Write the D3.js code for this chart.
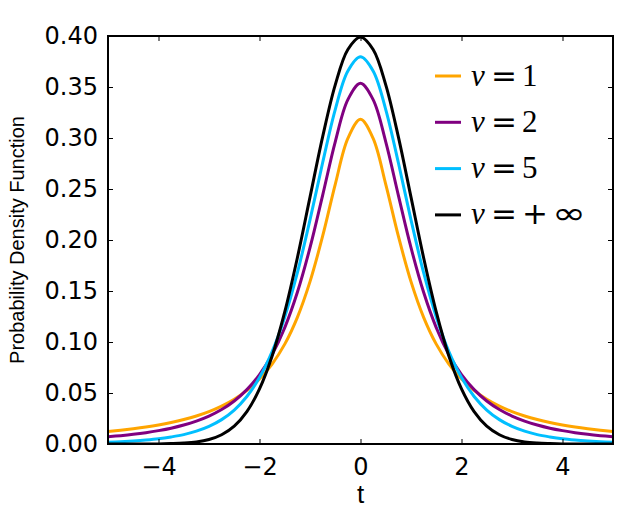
<!DOCTYPE html>
<html>
<head>
<meta charset="utf-8">
<script src="https://cdn.jsdelivr.net/npm/d3@7"></script>
<style>
  html, body { margin: 0; padding: 0; background: #fff; }
  svg { display: block; }
</style>
</head>
<body>
<svg id="chart" width="640" height="512"></svg>
<script>
// ---- data ----
const tValues = [-5,-4.75,-4.5,-4.25,-4,-3.75,-3.5,-3.25,-3,-2.75,-2.5,-2.25,-2,-1.75,-1.5,-1.25,-1,-0.75,-0.5,-0.25,0,
                 0.25,0.5,0.75,1,1.25,1.5,1.75,2,2.25,2.5,2.75,3,3.25,3.5,3.75,4,4.25,4.5,4.75,5];
const nu1 = [0.0122,0.0135,0.0150,0.0167,0.0187,0.0211,0.0240,0.0275,0.0318,0.0372,0.0439,0.0525,0.0637,0.0784,0.0979,0.1242,0.1592,0.2037,0.2546,0.2996,0.3183,
             0.2996,0.2546,0.2037,0.1592,0.1242,0.0979,0.0784,0.0637,0.0525,0.0439,0.0372,0.0318,0.0275,0.0240,0.0211,0.0187,0.0167,0.0150,0.0135,0.0122];
const nu2 = [0.0071,0.0082,0.0095,0.0111,0.0131,0.0155,0.0186,0.0225,0.0274,0.0338,0.0422,0.0533,0.0680,0.0878,0.1141,0.1487,0.1925,0.2438,0.2963,0.3376,0.3536,
             0.3376,0.2963,0.2438,0.1925,0.1487,0.1141,0.0878,0.0680,0.0533,0.0422,0.0338,0.0274,0.0225,0.0186,0.0155,0.0131,0.0111,0.0095,0.0082,0.0071];
const nu5 = [0.0018,0.0023,0.0030,0.0039,0.0051,0.0069,0.0092,0.0126,0.0173,0.0239,0.0333,0.0466,0.0651,0.0905,0.1245,0.1679,0.2197,0.2757,0.3279,0.3657,0.3796,
             0.3657,0.3279,0.2757,0.2197,0.1679,0.1245,0.0905,0.0651,0.0466,0.0333,0.0239,0.0173,0.0126,0.0092,0.0069,0.0051,0.0039,0.0030,0.0023,0.0018];
const nuInf = [0.0000,0.0000,0.0000,0.0001,0.0001,0.0004,0.0009,0.0020,0.0044,0.0091,0.0175,0.0317,0.0540,0.0863,0.1295,0.1826,0.2420,0.3011,0.3521,0.3867,0.3989,
               0.3867,0.3521,0.3011,0.2420,0.1826,0.1295,0.0863,0.0540,0.0317,0.0175,0.0091,0.0044,0.0020,0.0009,0.0004,0.0001,0.0001,0.0000,0.0000,0.0000];
const seriesNames = ["1", "2", "5", "+\u221E"];
const seriesColors = ["#FFA500", "#800080", "#00BFFF", "#000000"];
const xTicks = [-4, -2, 0, 2, 4];
const yTicks = [0.00, 0.05, 0.10, 0.15, 0.20, 0.25, 0.30, 0.35, 0.40];
const xLabel = "t";
const yLabel = "Probability Density Function";

const series = [nu1, nu2, nu5, nuInf].map((vals, i) => ({
  name: seriesNames[i], color: seriesColors[i],
  points: tValues.map((t, j) => [t, vals[j]])
}));

// ---- layout ----
const margin = { left: 108, right: 27, top: 36, bottom: 68 };
const W = 640, H = 512;
const iw = W - margin.left - margin.right;
const ih = H - margin.top - margin.bottom;

const svg = d3.select("#chart");
const g = svg.append("g").attr("transform", `translate(${margin.left},${margin.top})`);

const x = d3.scaleLinear().domain([-5, 5]).range([0, iw]);
const y = d3.scaleLinear().domain([0, 0.40]).range([ih, 0]);

svg.append("defs").append("clipPath").attr("id", "clip")
  .append("rect").attr("x", 0).attr("y", 0).attr("width", iw).attr("height", ih);

const line = d3.line().x(d => x(d[0])).y(d => y(d[1])).curve(d3.curveCatmullRom.alpha(0.5));

g.append("g").attr("clip-path", "url(#clip)")
  .selectAll("path").data(series).join("path")
  .attr("d", d => line(d.points))
  .attr("fill", "none")
  .attr("stroke", d => d.color)
  .attr("stroke-width", 3)
  .attr("stroke-linejoin", "round");

// ---- axes (ticks inward on all sides) ----
const tickFont = "DejaVu Sans, sans-serif";
const axBottom = g.append("g").attr("transform", `translate(0,${ih})`)
  .call(d3.axisBottom(x).tickValues(xTicks).tickSizeInner(-5).tickSizeOuter(0).tickPadding(14)
        .tickFormat(d => d3.format("")(d).replace("-", "\u2212")));
const axTop = g.append("g")
  .call(d3.axisTop(x).tickValues(xTicks).tickSizeInner(-5).tickSizeOuter(0).tickFormat(""));
const axLeft = g.append("g")
  .call(d3.axisLeft(y).tickValues(yTicks).tickSizeInner(-5).tickSizeOuter(0).tickPadding(10)
        .tickFormat(d3.format(".2f")));
const axRight = g.append("g").attr("transform", `translate(${iw},0)`)
  .call(d3.axisRight(y).tickValues(yTicks).tickSizeInner(-5).tickSizeOuter(0).tickFormat(""));

[axBottom, axTop, axLeft, axRight].forEach(a => {
  a.select(".domain").remove();
  a.selectAll(".tick line").attr("stroke", "#000").attr("stroke-width", 1);
  a.selectAll("text").attr("font-family", tickFont).attr("font-size", 24).attr("fill", "#000");
});

// frame
g.append("rect").attr("x", 0).attr("y", 0).attr("width", iw).attr("height", ih)
  .attr("fill", "none").attr("stroke", "#000").attr("stroke-width", 2);

// axis labels
svg.append("text").attr("x", margin.left + iw / 2).attr("y", 503)
  .attr("text-anchor", "middle").attr("font-family", "Liberation Sans, Arial, sans-serif")
  .attr("font-size", 26).text(xLabel);
svg.append("text")
  .attr("transform", `translate(24,${margin.top + ih / 2}) rotate(-90)`)
  .attr("text-anchor", "middle").attr("font-family", "Liberation Sans, Arial, sans-serif")
  .attr("font-size", 20).text(yLabel);

// ---- legend ----
const legend = svg.append("g").attr("transform", `translate(435,76)`);
const item = legend.selectAll("g").data(series).join("g")
  .attr("transform", (d, i) => `translate(0,${i * 46.3})`);
item.append("line").attr("x1", 0).attr("x2", 26).attr("y1", 0).attr("y2", 0)
  .attr("stroke", d => d.color).attr("stroke-width", 3);
const fs = 31;
item.append("text").attr("x", 36).attr("y", 9.5)
  .attr("font-family", "Liberation Serif, serif").attr("font-style", "italic")
  .attr("font-size", fs).text("\u03BD");
item.append("text").attr("x", 56).attr("y", 9.5)
  .attr("font-family", "DejaVu Sans, sans-serif").attr("font-size", fs).text("=");
item.each(function(d) {
  const el = d3.select(this);
  const isInf = d.name.startsWith("+");
  if (!isInf) {
    el.append("text").attr("x", 87).attr("y", 9.5)
      .attr("font-family", "Liberation Serif, serif").attr("font-size", fs).text(d.name);
  } else {
    el.append("text").attr("x", 87).attr("y", 9.5)
      .attr("font-family", "DejaVu Sans, sans-serif").attr("font-size", fs).text("+");
    el.append("text").attr("x", 117).attr("y", 9.5)
      .attr("font-family", "DejaVu Sans, sans-serif").attr("font-size", fs)
      .attr("textLength", 34).attr("lengthAdjust", "spacingAndGlyphs").text("\u221E");
  }
});
</script>
</body>
</html>
